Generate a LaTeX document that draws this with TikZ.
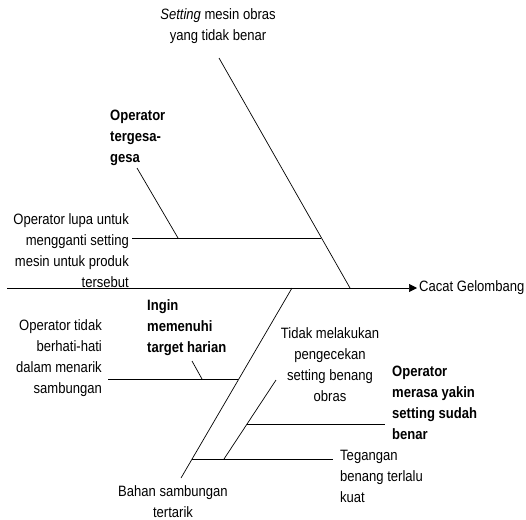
\documentclass[tikz,border=0pt]{standalone}
\usepackage{fontspec}
\setmainfont{Liberation Sans}[FakeStretch=0.87]
\usetikzlibrary{arrows.meta}
\begin{document}
\begin{tikzpicture}[x=1pt,y=-1pt,
  bone/.style={line width=0.7pt},
  lbl/.style={inner sep=0pt,font=\fontsize{15}{21}\selectfont},
  blbl/.style={lbl,font=\fontsize{15}{21}\selectfont\bfseries}]
\useasboundingbox (0,0) rectangle (526,519);
% coordinates
\coordinate (s0) at (7,288);
\coordinate (s1) at (417,288);
\coordinate (u0) at (219,58);
\coordinate (u1) at (350,288);
\coordinate (uh0) at (132,238);
\coordinate (uh1) at (321,238);
\coordinate (ut0) at (137,168);
\coordinate (ut1) at (178,238);
\coordinate (l0) at (292,288);
\coordinate (l1) at (181,478);
\coordinate (lh0) at (108,379);
\coordinate (lh1) at (238,379);
\coordinate (lt0) at (192,361);
\coordinate (lt1) at (202,379);
\coordinate (b0) at (276,380);
\coordinate (b1) at (224,459);
\coordinate (bh0) at (192,459);
\coordinate (bh1) at (333,459);
\coordinate (ch0) at (247,424);
\coordinate (ch1) at (385,424);
% texts
\node[lbl,anchor=west] (effect) at (419,288) {Cacat Gelombang};
\node[lbl,align=center] (top) at (218,26.5) {\textit{Setting} mesin obras\\yang tidak benar};
\node[lbl,align=right,anchor=east] (lupa) at (129,250.5) {Operator lupa untuk\\mengganti setting\\mesin untuk produk\\tersebut};
\node[blbl,align=left,anchor=west] (gesa) at (110,138) {Operator\\tergesa-\\gesa};
\node[lbl,align=right,anchor=east] (hati) at (102,358) {Operator tidak\\berhati-hati\\dalam menarik\\sambungan};
\node[blbl,align=left,anchor=west] (target) at (147,328) {Ingin\\memenuhi\\target harian};
\node[lbl,align=center] (cek) at (330,365) {Tidak melakukan\\pengecekan\\setting benang\\obras};
\node[blbl,align=left,anchor=west] (yakin) at (392,403) {Operator\\merasa yakin\\setting sudah\\benar};
\node[lbl,align=left,anchor=west] (tegang) at (340,476) {Tegangan\\benang terlalu\\kuat};
\node[lbl,align=center] (bahan) at (173,501.5) {Bahan sambungan\\tertarik};
% bones
\draw[bone,-{Triangle[length=8pt,width=8pt]}] (s0) -- (s1);
\draw[bone] (u0) -- (u1);
\draw[bone] (uh0) -- (uh1);
\draw[bone] (ut0) -- (ut1);
\draw[bone] (l0) -- (l1);
\draw[bone] (lh0) -- (lh1);
\draw[bone] (lt0) -- (lt1);
\draw[bone] (b0) -- (b1);
\draw[bone] (bh0) -- (bh1);
\draw[bone] (ch0) -- (ch1);
\end{tikzpicture}
\end{document}
